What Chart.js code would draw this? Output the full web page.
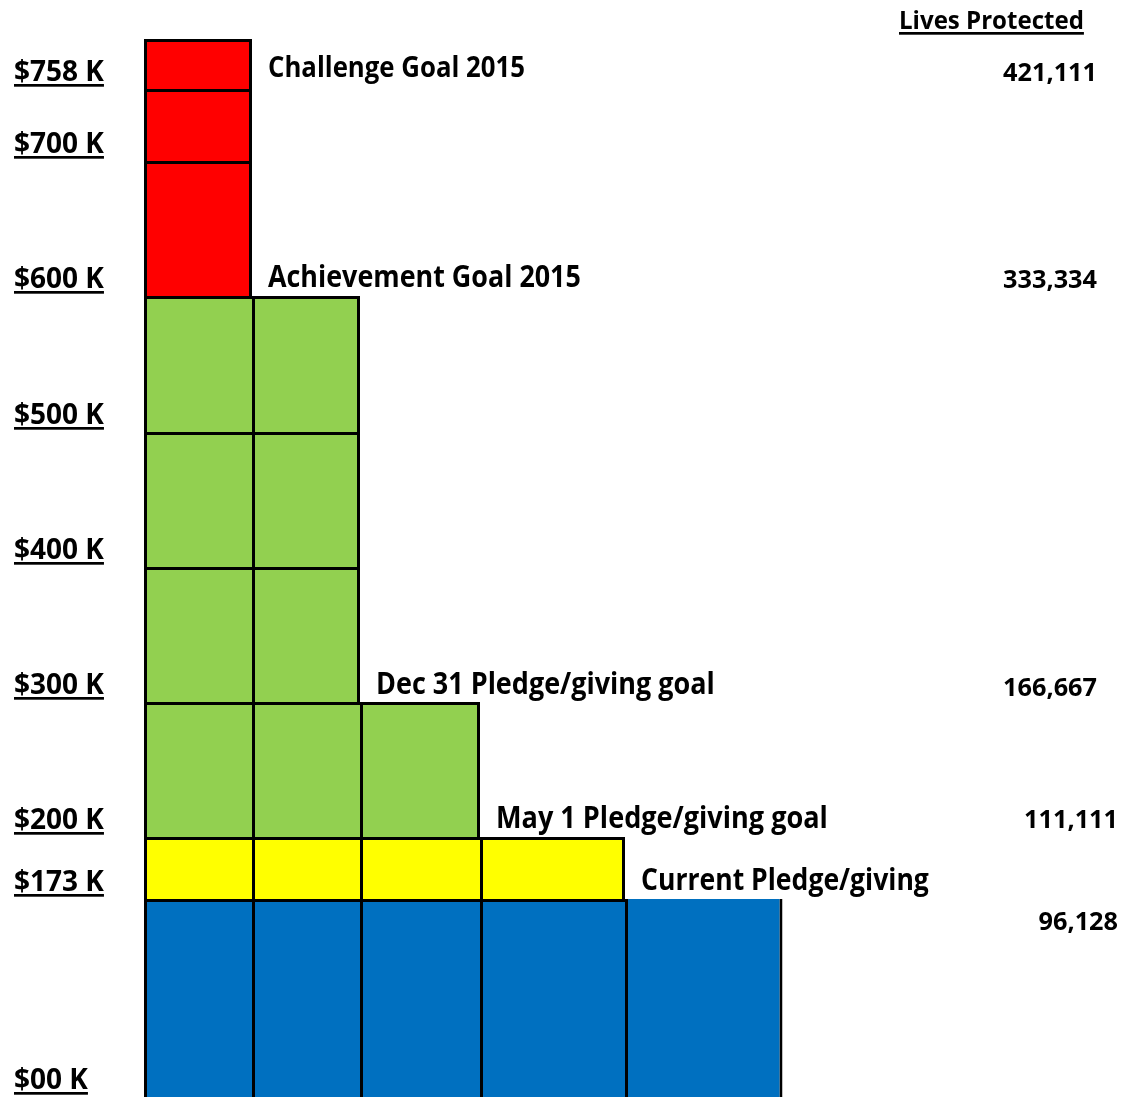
<!DOCTYPE html>
<html>
<head>
<meta charset="utf-8">
<script src="https://cdn.jsdelivr.net/npm/chart.js@4/dist/chart.umd.min.js"></script>
<style>
html,body{margin:0;padding:0;background:#fff;overflow:hidden}
canvas{display:block}
</style>
</head>
<body>
<canvas id="c" width="1124" height="1097"></canvas>
<script>
// ---------------- data ----------------
const levelValuesK   = [0, 173, 200, 300, 400, 500, 600, 700, 758, 800];   // $K block boundaries
const tickValuesK    = [0, 173, 200, 300, 400, 500, 600, 700, 758];
const tickLabels     = ['$00 K', '$173 K', '$200 K', '$300 K', '$400 K', '$500 K', '$600 K', '$700 K', '$758 K'];
const columnTopsK    = [800, 600, 300, 200, 173];                            // height of each column of blocks
const bandStartsK    = [0, 173, 200, 600];                                   // current / May 1 / Dec 31+Achievement / Challenge
const goalLabels     = ['Challenge Goal 2015', 'Achievement Goal 2015', 'Dec 31 Pledge/giving goal', 'May 1 Pledge/giving goal', 'Current Pledge/giving'];
const goalValuesK    = [758, 600, 300, 200, 173];
const livesHeader    = 'Lives Protected';
const livesProtected = ['421,111', '333,334', '166,667', '111,111', '96,128'];

// ---------------- layout / style ----------------
const CANVAS_H = 1097;
const FONT = '"Open Sans", Lato, "DejaVu Sans", sans-serif';
const WEIGHT = 'bold';
const bandColors = ['#0070C0', '#FFFF00', '#92D050', '#FF0000'];
const levelLinePx = [1097, 899, 837, 702, 567, 432, 296, 161, 89, 39];   // where each level line sits (from top)
const columnEdgesPx = [144, 252, 360, 480, 625, 782.5];
const BW = 3;
const goalBaselineOffsets = [-12, -9, -8, -9, -9];
const goalSqueeze = 1.14;                       // taller, narrower lettering like the original
const livesBaselineOffsets = [-8, -8, -6, -9, 31];
const livesRightX = [1097, 1097, 1097, 1118, 1118];

// font fitting (Calibri is not available; match text widths of the reference)
const mctx = document.createElement('canvas').getContext('2d');
function fitSize(text, target) {
  mctx.font = WEIGHT + ' 100px ' + FONT;
  return 100 * target / mctx.measureText(text).width;
}
const tickSize = fitSize('$758 K', 90);
const goalTargetW = [257, 313, 339, 332, 288];
const goalSizes = goalLabels.map((t, i) => fitSize(t, goalTargetW[i]) * goalSqueeze);
const livesSize = fitSize('421,111', 94);
const headerSize = fitSize(livesHeader, 185);
mctx.font = WEIGHT + ' ' + tickSize + 'px ' + FONT;
mctx.textBaseline = 'middle';
const tickMidToBase = mctx.measureText('0').actualBoundingBoxDescent;
const tickLabelOffset = -8 - tickMidToBase;

// ---------------- custom piecewise value scale ----------------
class StepLevelScale extends Chart.LinearScale {
  _fracFor(v) {
    const vals = levelValuesK, px = levelLinePx;
    let i = 0;
    while (i < vals.length - 2 && v > vals[i + 1]) i++;
    const t = (v - vals[i]) / (vals[i + 1] - vals[i]);
    const p = px[i] + t * (px[i + 1] - px[i]);
    return 1 - p / CANVAS_H;
  }
  getPixelForValue(value) {
    if (value === null || value === undefined || isNaN(value)) return NaN;
    return this.getPixelForDecimal(this._fracFor(value));
  }
  getValueForPixel(pixel) {
    const d = this.getDecimalForPixel(pixel);
    const p = (1 - d) * CANVAS_H;
    let i = 0;
    while (i < levelLinePx.length - 2 && p < levelLinePx[i + 1]) i++;
    const t = (p - levelLinePx[i]) / (levelLinePx[i + 1] - levelLinePx[i]);
    return levelValuesK[i] + t * (levelValuesK[i + 1] - levelValuesK[i]);
  }
}
StepLevelScale.id = 'steplevel';
StepLevelScale.defaults = Chart.LinearScale.defaults;
Chart.register(StepLevelScale);

// ---------------- datasets ----------------
function bandIndex(lo) {
  let b = 0;
  bandStartsK.forEach((s, i) => { if (lo >= s) b = i; });
  return b;
}
const lastCol = columnTopsK.length - 1;
const datasets = columnTopsK.map((top, c) => {
  const blocks = [];
  for (let j = 0; j < levelValuesK.length - 1 && levelValuesK[j + 1] <= top; j++) {
    blocks.push([levelValuesK[j], levelValuesK[j + 1]]);
  }
  const x0 = columnEdgesPx[c], x1 = columnEdgesPx[c + 1];
  const widths = blocks.map(b => ({
    left: BW,
    top: (c === lastCol && b[1] === top) ? 0 : BW,
    right: (c === lastCol || columnTopsK[c + 1] < b[1]) ? BW : 0,
    bottom: 0
  }));
  return {
    label: 'Column ' + (c + 1),
    data: blocks.map(b => ({ x: (x0 + x1) / 2, y: b })),
    backgroundColor: blocks.map(b => bandColors[bandIndex(b[0])]),
    borderColor: '#000000',
    borderWidth: widths,
    borderSkipped: false,
    inflateAmount: 0,
    barThickness: x1 - x0,
    grouped: false
  };
});

// ---------------- text plugin ----------------
const textPlugin = {
  id: 'goalText',
  afterDraw(chart) {
    const { ctx } = chart;
    const y = chart.scales.y;
    ctx.save();
    ctx.fillStyle = '#000';
    // underline the value tick labels
    ctx.font = WEIGHT + ' ' + tickSize + 'px ' + FONT;
    y.ticks.forEach((t, i) => {
      const base = y.getPixelForTick(i) - 8;
      const w = ctx.measureText(tickLabels[i]).width;
      ctx.fillRect(y.left, base + 3, w, 2.7);
    });
    // goal annotations
    ctx.textAlign = 'left';
    ctx.textBaseline = 'alphabetic';
    goalLabels.forEach((t, i) => {
      const v = goalValuesK[i];
      const n = columnTopsK.filter(tp => tp > v).length;
      const gx = columnEdgesPx[n] + 16;
      const gy = y.getPixelForValue(v) + goalBaselineOffsets[i];
      ctx.save();
      ctx.translate(gx, gy);
      ctx.scale(1 / goalSqueeze, 1);
      ctx.font = WEIGHT + ' ' + goalSizes[i] + 'px ' + FONT;
      ctx.fillText(t, 0, 0);
      ctx.restore();
    });
    // lives protected header
    ctx.font = WEIGHT + ' ' + headerSize + 'px ' + FONT;
    ctx.fillText(livesHeader, 899, 29);
    ctx.fillRect(899, 32, ctx.measureText(livesHeader).width, 2.7);
    // lives protected numbers
    ctx.textAlign = 'right';
    ctx.font = WEIGHT + ' ' + livesSize + 'px ' + FONT;
    livesProtected.forEach((t, i) => {
      ctx.fillText(t, livesRightX[i], y.getPixelForValue(goalValuesK[i]) + livesBaselineOffsets[i]);
    });
    ctx.restore();
  }
};

new Chart(document.getElementById('c'), {
  type: 'bar',
  data: { datasets },
  options: {
    responsive: false,
    animation: false,
    events: [],
    layout: { padding: { left: 14, right: 0, top: 0, bottom: 0 } },
    plugins: { legend: { display: false }, tooltip: { enabled: false } },
    scales: {
      x: { type: 'linear', min: 144, max: 1124, display: false, offset: false },
      y: {
        type: 'steplevel',
        position: 'left',
        min: 0,
        max: 800,
        grid: { display: false, drawTicks: false },
        border: { display: false },
        afterBuildTicks: (s) => { s.ticks = tickValuesK.map(v => ({ value: v })); },
        afterFit: (s) => { s.width = 130; s.paddingTop = 0; s.paddingBottom = 0; },
        ticks: {
          autoSkip: false,
          crossAlign: 'far',
          padding: 0,
          labelOffset: tickLabelOffset,
          color: '#000',
          font: { family: FONT, size: tickSize, weight: WEIGHT },
          callback: (v, i) => tickLabels[i]
        }
      }
    }
  },
  plugins: [textPlugin]
});
</script>
</body>
</html>
